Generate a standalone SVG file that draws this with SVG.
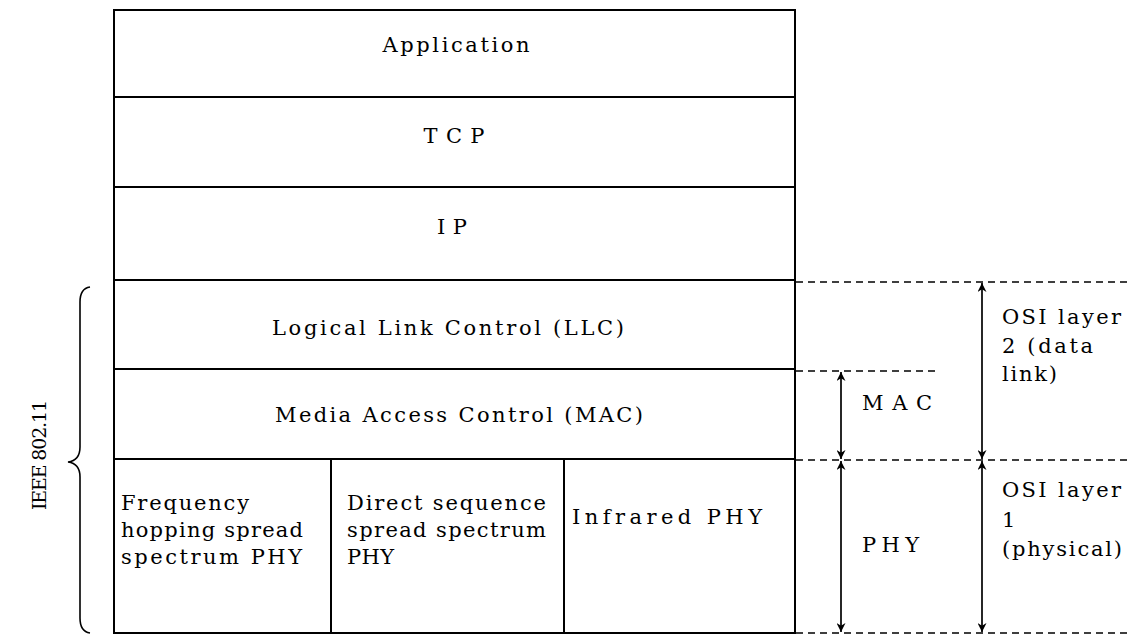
<svg xmlns="http://www.w3.org/2000/svg" width="1130" height="636" viewBox="0 0 1130 636">
  <style>
    text { font-family: "DejaVu Serif", "Liberation Serif", serif; font-size: 21px; fill: #000; }
    .box { fill: #fff; stroke: #000; stroke-width: 2; }
    .dash { fill: none; stroke: #000; stroke-width: 1.5; stroke-dasharray: 7 5; }
    .arr { fill: none; stroke: #000; stroke-width: 1.7; marker-start: url(#head); marker-end: url(#head); }
    .brace { fill: none; stroke: #000; stroke-width: 1.6; }
  </style>
  <defs>
    <marker id="head" viewBox="0 0 10 10" refX="10" refY="5" markerWidth="9" markerHeight="9" markerUnits="userSpaceOnUse" orient="auto-start-reverse">
      <path d="M0,0 L10,5 L0,10 L3,5 Z" fill="#000"/>
    </marker>
  </defs>
  <rect width="1130" height="636" fill="#fff"/>

  <!-- protocol stack -->
  <g id="application">
    <rect class="box" x="114" y="10" width="681" height="87"/>
    <text x="456" y="52" text-anchor="middle" textLength="147" lengthAdjust="spacing">Application</text>
  </g>
  <g id="tcp">
    <rect class="box" x="114" y="97" width="681" height="90"/>
    <text x="454" y="143" text-anchor="middle" textLength="61" lengthAdjust="spacing">TCP</text>
  </g>
  <g id="ip">
    <rect class="box" x="114" y="187" width="681" height="93"/>
    <text x="452" y="234" text-anchor="middle" textLength="30" lengthAdjust="spacing">IP</text>
  </g>
  <g id="llc">
    <rect class="box" x="114" y="280" width="681" height="89"/>
    <text x="448" y="335" text-anchor="middle" textLength="352" lengthAdjust="spacing">Logical Link Control (LLC)</text>
  </g>
  <g id="mac">
    <rect class="box" x="114" y="369" width="681" height="90"/>
    <text x="459" y="422" text-anchor="middle" textLength="368" lengthAdjust="spacing">Media Access Control (MAC)</text>
  </g>
  <g id="fhss-phy">
    <rect class="box" x="114" y="459" width="217" height="174"/>
    <text x="121" y="510" textLength="128" lengthAdjust="spacing">Frequency</text>
    <text x="121" y="537" textLength="182" lengthAdjust="spacing">hopping spread</text>
    <text x="121" y="564" textLength="181" lengthAdjust="spacing">spectrum PHY</text>
  </g>
  <g id="dsss-phy">
    <rect class="box" x="331" y="459" width="233" height="174"/>
    <text x="347" y="510" textLength="199" lengthAdjust="spacing">Direct sequence</text>
    <text x="347" y="537" textLength="199" lengthAdjust="spacing">spread spectrum</text>
    <text x="347" y="564" textLength="47" lengthAdjust="spacing">PHY</text>
  </g>
  <g id="ir-phy">
    <rect class="box" x="564" y="459" width="231" height="174"/>
    <text x="667" y="524" text-anchor="middle" textLength="190" lengthAdjust="spacing">Infrared PHY</text>
  </g>

  <!-- IEEE 802.11 scope -->
  <g id="ieee-brace">
    <path class="brace" d="M90,287 C83,288 80,293 80,302 L80,447 C80,456 76,461 68,462 C76,463 80,468 80,477 L80,618 C80,627 83,632 90,633"/>
    <text transform="translate(46,455) rotate(-90)" text-anchor="middle" textLength="110" lengthAdjust="spacing" style="font-size:19px">IEEE 802.11</text>
  </g>

  <!-- layer boundaries and span arrows -->
  <g id="connectors">
    <line class="dash" x1="796" y1="282" x2="1127" y2="282"/>
    <line class="dash" x1="796" y1="371" x2="937" y2="371"/>
    <line class="dash" x1="796" y1="460" x2="1127" y2="460"/>
    <line class="dash" x1="796" y1="633" x2="1127" y2="633"/>
    <line class="arr" x1="841" y1="372" x2="841" y2="459"/>
    <line class="arr" x1="841" y1="461" x2="841" y2="632"/>
    <line class="arr" x1="982" y1="283" x2="982" y2="459"/>
    <line class="arr" x1="982" y1="461" x2="982" y2="632"/>
  </g>

  <g id="mac-label">
    <text x="862" y="410" textLength="70" lengthAdjust="spacing">MAC</text>
  </g>
  <g id="phy-label">
    <text x="862" y="552" textLength="57" lengthAdjust="spacing">PHY</text>
  </g>
  <g id="osi-layer-2">
    <text x="1002" y="324" textLength="119" lengthAdjust="spacing">OSI layer</text>
    <text x="1002" y="353" textLength="91" lengthAdjust="spacing">2 (data</text>
    <text x="1002" y="381" textLength="55" lengthAdjust="spacing">link)</text>
  </g>
  <g id="osi-layer-1">
    <text x="1002" y="497" textLength="119" lengthAdjust="spacing">OSI layer</text>
    <text x="1002" y="527" textLength="9" lengthAdjust="spacing">1</text>
    <text x="1002" y="556" textLength="120" lengthAdjust="spacing">(physical)</text>
  </g>
</svg>
